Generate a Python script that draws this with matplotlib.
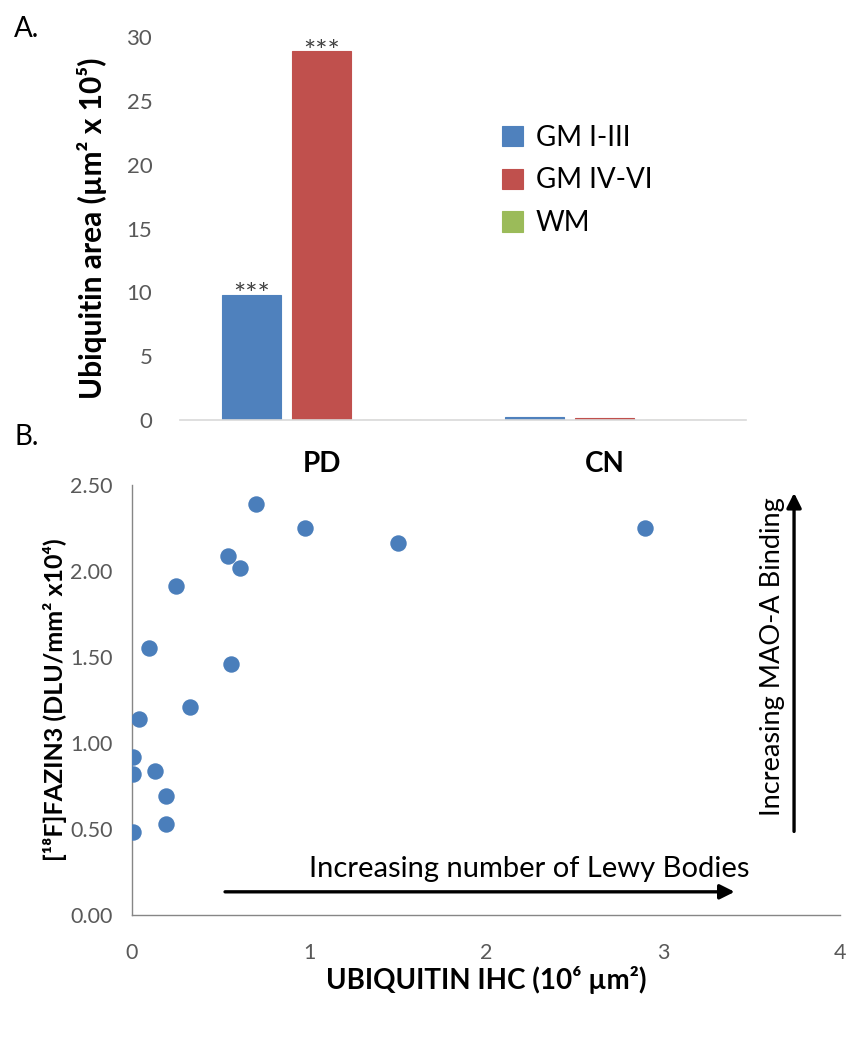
import matplotlib.pyplot as plt
import numpy as np

plt.rcParams['font.family'] = ['Lato', 'DejaVu Sans']

# --- panel A data ---
groups = ['PD', 'CN']
series = ['GM I-III', 'GM IV-VI', 'WM']
gm_1_3 = [9.8, 0.25]
gm_4_6 = [28.9, 0.15]
wm = [0.0, 0.0]
bar_colors = ['#4F81BD', '#C0504D', '#9BBB59']
star_labels = ['***', '***', '']

# --- panel B data ---
ubiquitin = [0.70, 0.98, 1.50, 0.54, 0.61, 0.25, 0.096, 0.56, 0.33, 0.038,
             0.008, 0.008, 0.13, 0.19, 0.19, 0.008, 2.90]
fazin3 = [2.39, 2.25, 2.16, 2.09, 2.02, 1.91, 1.55, 1.46, 1.21, 1.14,
          0.92, 0.82, 0.84, 0.69, 0.53, 0.48, 2.25]

fig = plt.figure(figsize=(8.46, 10.37), dpi=100)

# ---------- A ----------
ax1 = fig.add_axes([0.2128, 0.595, 0.669, 0.3693])
x = np.arange(len(groups))
w = 0.209
pitch = 0.247
for i, (vals, name) in enumerate(zip([gm_1_3, gm_4_6, wm], series)):
    pos = x + (i - 1) * pitch
    ax1.bar(pos, vals, width=w, color=bar_colors[i], label=name,
            edgecolor=bar_colors[i], linewidth=0.8)
    if star_labels[i]:
        ax1.text(pos[0], vals[0] - 0.75, star_labels[i], ha='center',
                 va='baseline', fontsize=21, color='#404040')

ax1.set_xlim(-0.5, 1.5)
ax1.set_ylim(0, 30)
ax1.set_yticks(range(0, 31, 5))
ax1.set_xticks(x)
ax1.set_xticklabels(groups, fontsize=20, fontweight='bold')
ax1.tick_params(axis='x', length=0, pad=22)
ax1.tick_params(axis='y', length=0, pad=20, labelsize=16, labelcolor='#595959')
for s in ['top', 'right', 'left']:
    ax1.spines[s].set_visible(False)
ax1.spines['bottom'].set_color('#D9D9D9')
ax1.spines['bottom'].set_linewidth(1.2)
ax1.set_ylabel('Ubiquitin area (µm² x 10⁵)', fontsize=21.5, fontweight='bold',
               labelpad=14)
ax1.legend(loc='upper left', bbox_to_anchor=(0.55, 0.80), frameon=False,
           fontsize=20, handlelength=0.75, handleheight=0.75, handletextpad=0.45,
           labelspacing=0.6, borderaxespad=0)

fig.text(0.017, 0.972, 'A.', fontsize=20, va='center')
fig.text(0.017, 0.579, 'B.', fontsize=20, va='center')

# ---------- B ----------
ax2 = fig.add_axes([0.156, 0.1176, 0.837, 0.4147])
ax2.scatter(ubiquitin, fazin3, s=140, color='#4A7EBB', zorder=3, linewidths=0)
ax2.set_xlim(0, 4)
ax2.set_ylim(0, 2.5)
ax2.set_xticks(range(0, 5))
ax2.set_yticks(np.arange(0, 2.51, 0.5))
ax2.set_yticklabels([f'{v:.2f}' for v in np.arange(0, 2.51, 0.5)])
ax2.tick_params(axis='both', length=0, labelsize=15.5, labelcolor='#595959')
ax2.tick_params(axis='x', pad=20)
ax2.tick_params(axis='y', pad=14)
for s in ['top', 'right']:
    ax2.spines[s].set_visible(False)
for s in ['left', 'bottom']:
    ax2.spines[s].set_color('#868686')
    ax2.spines[s].set_linewidth(1.0)
ax2.set_xlabel('UBIQUITIN IHC (10⁶ µm²)', fontsize=20, fontweight='bold',
               labelpad=2)
ax2.set_ylabel('[¹⁸F]FAZIN3 (DLU/mm² x10⁴)', fontsize=18, fontweight='bold',
               labelpad=2)

ax2.annotate('', xy=(3.42, 0.135), xytext=(0.51, 0.135),
             arrowprops=dict(arrowstyle='-|>', color='black', lw=2.4,
                             mutation_scale=22))
ax2.text(1.00, 0.19, 'Increasing number of Lewy Bodies', fontsize=21,
         ha='left', va='bottom')
ax2.annotate('', xy=(3.74, 2.47), xytext=(3.74, 0.47),
             arrowprops=dict(arrowstyle='-|>', color='black', lw=2.4,
                             mutation_scale=22))
ax2.text(3.62, 1.50, 'Increasing MAO-A Binding', fontsize=19.5, rotation=90,
         ha='center', va='center')

fig.savefig('out.png', dpi=100)
